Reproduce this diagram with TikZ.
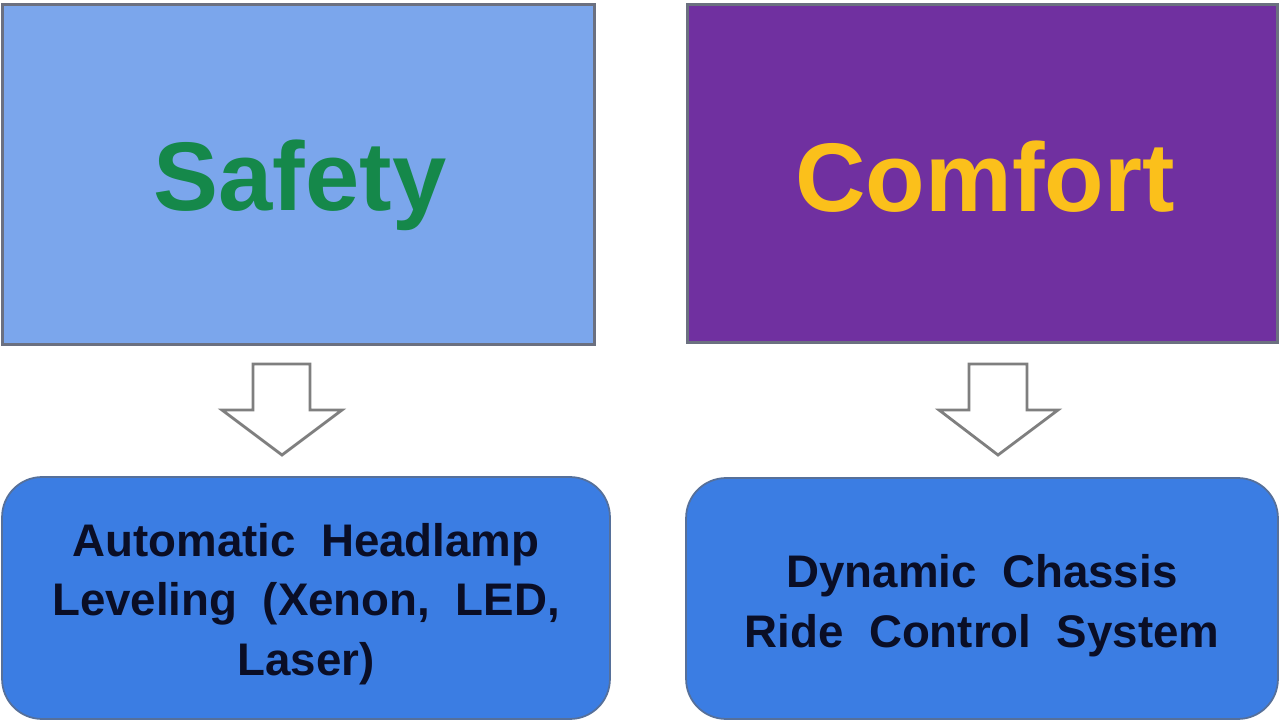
\documentclass[tikz,border=0pt]{standalone}
\usepackage{fontspec}
\setmainfont{Liberation Sans}
\newfontfamily\spreadfont[WordSpace=2.0]{Liberation Sans}
\usetikzlibrary{positioning}

\definecolor{skyfill}{HTML}{7BA6EC}
\definecolor{plumfill}{HTML}{7030A0}
\definecolor{leafgreen}{HTML}{15884A}
\definecolor{goldtext}{HTML}{FBC01B}
\definecolor{panelblue}{HTML}{3B7DE3}
\definecolor{edgegray}{HTML}{6B7080}
\definecolor{paneledge}{HTML}{56709A}
\definecolor{inkblue}{HTML}{0A0E26}
\definecolor{arrowgray}{HTML}{7F7F7F}

\tikzset{
  topbox/.style={draw=edgegray, line width=1.7pt, inner sep=0pt},
  bigword/.style={font=\fontsize{55.5}{60}\selectfont\bfseries, anchor=base, inner sep=0pt},
  lowbox/.style={draw=paneledge, line width=1pt, fill=panelblue, rounded corners=0.8cm, inner sep=0pt},
  lowtext/.style={font=\spreadfont\fontsize{26}{34}\selectfont\bfseries, text=inkblue, align=center, inner sep=0pt},
  hollowarrow/.style={draw=arrowgray, line width=1.6pt, fill=white, line join=miter}
}

\begin{document}
\begin{tikzpicture}[x=0.02cm, y=-0.02cm]
    \useasboundingbox (0,0) rectangle (1280,722);
    % top boxes
    \node[topbox, fill=skyfill, minimum width=11.86cm, minimum height=6.82cm] (safety) at (298.5,174.5) {};
    \node[topbox, fill=plumfill, minimum width=11.82cm, minimum height=6.78cm] (comfort) at (982.5,173.5) {};
    \node[bigword, text=leafgreen] (safetytxt) at (300,211) {Safety};
    \node[bigword, text=goldtext] (comforttxt) at (985,212) {Comfort};
    % bottom boxes
    \node[lowbox, minimum width=12.16cm, minimum height=4.84cm] (headlamp) at (306,598) {};
    \node[lowbox, minimum width=11.84cm, minimum height=4.82cm] (chassis) at (982,598.5) {};
    \node[lowtext] (headlamptxt) at (306,604) {Automatic Headlamp\\Leveling (Xenon, LED,\\Laser)};
    \node[lowtext] (chassistxt) at (982,606) {Dynamic Chassis\\Ride Control System};
    % hollow arrows
    \draw[hollowarrow] (253,364) -- (310,364) -- (310,410) -- (342,410) -- (282,455) -- (222,410) -- (253,410) -- cycle;
    \draw[hollowarrow] (969,364) -- (1027,364) -- (1027,410) -- (1058,410) -- (998,455) -- (939,410) -- (969,410) -- cycle;
\end{tikzpicture}
\end{document}
